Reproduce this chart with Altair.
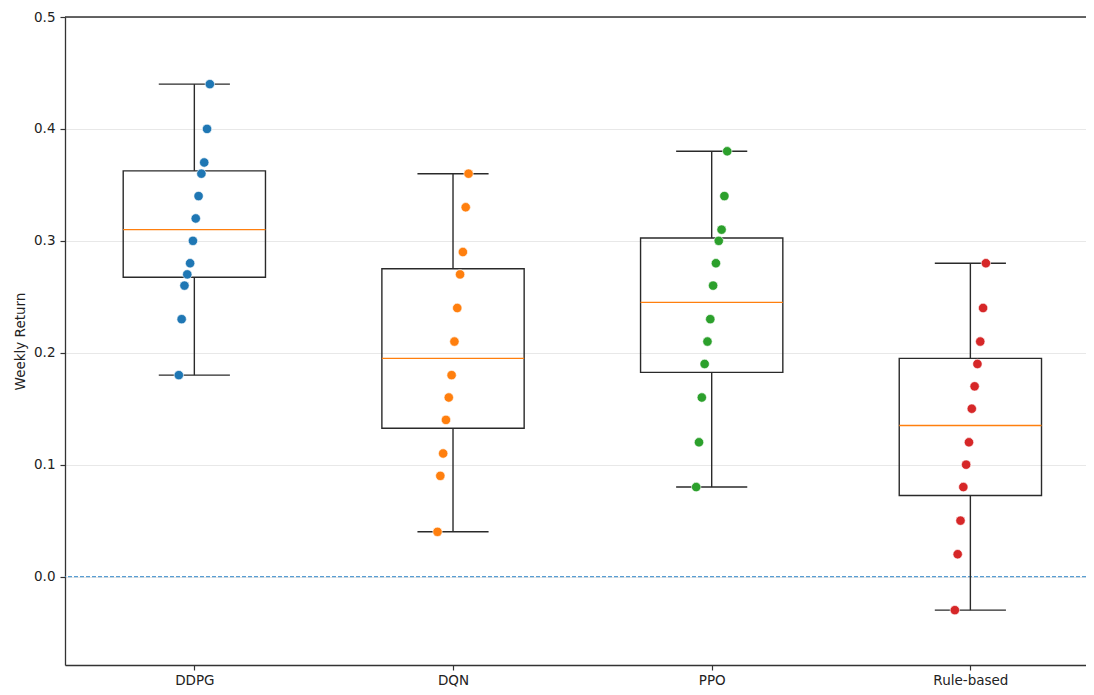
import altair as alt
import pandas as pd

methods = ["DDPG", "DQN", "PPO", "Rule-based"]
colors = ["#1f77b4", "#ff7f0e", "#2ca02c", "#d62728"]

ddpg = [0.18, 0.23, 0.26, 0.27, 0.28, 0.30, 0.32, 0.34, 0.36, 0.37, 0.40, 0.44]
dqn = [0.04, 0.09, 0.11, 0.14, 0.16, 0.18, 0.21, 0.24, 0.27, 0.29, 0.33, 0.36]
ppo = [0.08, 0.12, 0.16, 0.19, 0.21, 0.23, 0.26, 0.28, 0.30, 0.31, 0.34, 0.38]
rule = [-0.03, 0.02, 0.05, 0.08, 0.10, 0.12, 0.15, 0.17, 0.19, 0.21, 0.24, 0.28]

reference_line = [0.0]
y_ticks = [0.0, 0.1, 0.2, 0.3, 0.4, 0.5]

series = [ddpg, dqn, ppo, rule]
rows = []
for i, (m, vals) in enumerate(zip(methods, series)):
    for v in vals:
        rows.append({"method": m, "pos": i + 1, "value": v})
df = pd.DataFrame(rows)

W = 1021
H = 648
x_scale = alt.Scale(domain=[0.5, 4.447], nice=False, zero=False)
y_scale = alt.Scale(domain=[-0.079, 0.5], nice=False, zero=False)
color_scale = alt.Scale(domain=methods, range=colors)

label_expr = "datum.value==1?'DDPG':datum.value==2?'DQN':datum.value==3?'PPO':datum.value==4?'Rule-based':''"

FONT = "DejaVu Sans"
FS = 13.5
INK = "#333333"

x_axis = alt.Axis(values=[1, 2, 3, 4], labelExpr=label_expr, grid=False, title=None,
                  domainColor=INK, tickColor=INK, tickSize=5, tickWidth=1.2,
                  labelFontSize=FS, labelColor="#222222", labelPadding=14,
                  labelBaseline="alphabetic",
                  labelFont=FONT, domainWidth=1.3)
y_axis = alt.Axis(values=y_ticks, format=".1f", grid=True, gridColor="#e8e8e8", gridWidth=1,
                  title="Weekly Return", titleFontSize=FS, titleFontWeight="normal",
                  titleColor="#222222", titleFont=FONT, titlePadding=6,
                  domainColor=INK, tickColor=INK, tickSize=5, tickWidth=1.2,
                  labelFontSize=FS, labelColor="#222222", labelPadding=5,
                  labelFont=FONT, domainWidth=1.3)

base = alt.Chart(df)

stats = base.transform_aggregate(
    q1="q1(value)", q3="q3(value)", med="median(value)", lo="min(value)", hi="max(value)",
    groupby=["method", "pos"]
).transform_calculate(
    bl="datum.pos - 0.275", br="datum.pos + 0.275",
    cl="datum.pos - 0.1375", cr="datum.pos + 0.1375"
)

LW = 1.4
box = stats.mark_rect(fill="white", fillOpacity=0, stroke="#2a2a2a", strokeWidth=LW).encode(
    x=alt.X("bl:Q", scale=x_scale, axis=x_axis),
    x2="br:Q",
    y=alt.Y("q1:Q", scale=y_scale, axis=y_axis),
    y2="q3:Q",
)
whisk_hi = stats.mark_rule(color="#2a2a2a", strokeWidth=LW).encode(
    x=alt.X("pos:Q", scale=x_scale), y=alt.Y("q3:Q", scale=y_scale), y2="hi:Q")
whisk_lo = stats.mark_rule(color="#2a2a2a", strokeWidth=LW).encode(
    x=alt.X("pos:Q", scale=x_scale), y=alt.Y("lo:Q", scale=y_scale), y2="q1:Q")
cap_hi = stats.mark_rule(color="#2a2a2a", strokeWidth=LW).encode(
    x=alt.X("cl:Q", scale=x_scale), x2="cr:Q", y=alt.Y("hi:Q", scale=y_scale))
cap_lo = stats.mark_rule(color="#2a2a2a", strokeWidth=LW).encode(
    x=alt.X("cl:Q", scale=x_scale), x2="cr:Q", y=alt.Y("lo:Q", scale=y_scale))
median = stats.mark_rule(color="#ff7f0e", strokeWidth=1.4).encode(
    x=alt.X("bl:Q", scale=x_scale), x2="br:Q", y=alt.Y("med:Q", scale=y_scale))

zero_df = pd.DataFrame({"y": reference_line})
zero = alt.Chart(zero_df).mark_rule(color="#2f86c8", opacity=0.8, strokeWidth=1.4,
                                     strokeDash=[4, 2]).encode(
    y=alt.Y("y:Q", scale=y_scale))

points = base.transform_window(
    rk="row_number()", groupby=["method"], sort=[alt.SortField("value", order="ascending")]
).transform_joinaggregate(
    n="count()", groupby=["method"]
).transform_calculate(
    xp="datum.pos - 0.06 + (datum.rk - 1) * 0.12 / (datum.n - 1)"
).mark_circle(size=88, opacity=1, stroke="white", strokeWidth=0.6).encode(
    x=alt.X("xp:Q", scale=x_scale),
    y=alt.Y("value:Q", scale=y_scale),
    color=alt.Color("method:N", scale=color_scale, legend=None),
)

top_spine = alt.Chart(zero_df).mark_rule(color=INK, strokeWidth=1.3).encode(
    x=alt.value(0), x2=alt.value(W), y=alt.value(0))

chart = alt.layer(zero, box, whisk_hi, whisk_lo, cap_hi, cap_lo, median, points, top_spine).properties(
    width=W, height=H,
    autosize=alt.AutoSizeParams(type="none"),
    padding={"left": 57, "top": 9, "right": 0, "bottom": 22},
).configure_view(stroke=None).configure(background="white")

chart.save("out.html", embed_options={"renderer": "svg", "actions": False})
